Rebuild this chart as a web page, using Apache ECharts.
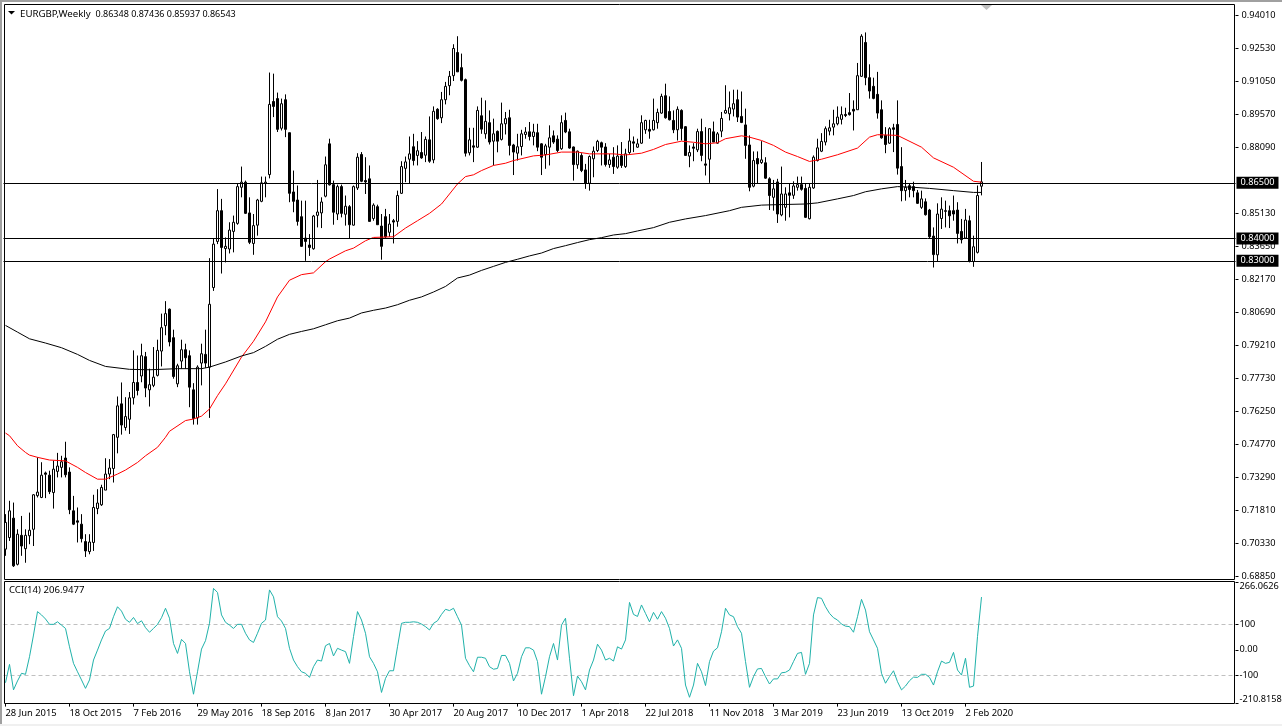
<!DOCTYPE html>
<html>
<head>
<meta charset="utf-8">
<title>EURGBP Weekly</title>
<script src="https://cdn.jsdelivr.net/npm/echarts@6/dist/echarts.min.js"></script>
<style>
  html, body { margin: 0; padding: 0; background: #fff; }
  #chart { width: 1282px; height: 726px; }
</style>
</head>
<body>
<div id="chart"></div>
<script>
var opens = [
  0.7006,0.7058,0.7145,0.6938,0.7068,0.7008,0.7066,0.7095,0.7246,0.7238,
  0.7348,0.7338,0.7260,0.7355,0.7373,0.7415,0.7352,0.7178,0.7133,0.7118,
  0.7040,0.6995,0.7036,0.7188,0.7205,0.7271,0.7343,0.7368,0.7508,0.7658,
  0.7552,0.7589,0.7685,0.7754,0.7783,0.7870,0.7721,0.7741,0.7786,0.7895,
  0.8009,0.8083,0.7955,0.7748,0.7850,0.7901,0.7874,0.7721,0.7595,0.7841,
  0.7880,0.7823,0.8180,0.8387,0.8525,0.8355,0.8353,0.8432,0.8468,0.8630,
  0.8653,0.8515,0.8378,0.8460,0.8567,0.8648,0.8687,0.9015,0.9028,0.8895,
  0.9023,0.8875,0.8609,0.8573,0.8498,0.8402,0.8371,0.8354,0.8504,0.8515,
  0.8590,0.8825,0.8642,0.8510,0.8633,0.8509,0.8543,0.8460,0.8627,0.8777,
  0.8660,0.8668,0.8490,0.8543,0.8456,0.8498,0.8428,0.8480,0.8477,0.8603,
  0.8715,0.8756,0.8812,0.8773,0.8786,0.8774,0.8843,0.8753,0.8980,0.8942,
  0.9023,0.9086,0.9131,0.9235,0.9167,0.9113,0.8785,0.8816,0.8810,0.8951,
  0.8870,0.8920,0.8837,0.8881,0.8845,0.8915,0.8942,0.8820,0.8783,0.8813,
  0.8867,0.8879,0.8858,0.8875,0.8825,0.8777,0.8810,0.8861,0.8846,0.8803,
  0.8930,0.8879,0.8811,0.8731,0.8773,0.8708,0.8648,0.8758,0.8795,0.8830,
  0.8811,0.8732,0.8765,0.8720,0.8771,0.8723,0.8786,0.8834,0.8810,0.8828,
  0.8888,0.8890,0.8888,0.8920,0.8963,0.9041,0.8970,0.8930,0.8888,0.8975,
  0.8902,0.8770,0.8811,0.8798,0.8880,0.8735,0.8756,0.8879,0.8828,0.8882,
  0.8963,0.8960,0.8981,0.9023,0.8948,0.8910,0.8820,0.8635,0.8759,0.8741,
  0.8740,0.8668,0.8585,0.8654,0.8506,0.8540,0.8605,0.8594,0.8630,0.8642,
  0.8625,0.8489,0.8627,0.8750,0.8792,0.8833,0.8882,0.8900,0.8915,0.8935,
  0.8957,0.8965,0.8980,0.8978,0.9128,0.9280,0.9122,0.9083,0.9047,0.8978,
  0.8863,0.8828,0.8897,0.8912,0.8723,0.8615,0.8637,0.8633,0.8605,0.8540,
  0.8565,0.8528,0.8411,0.8327,0.8490,0.8525,0.8525,0.8525,0.8528,0.8432,
  0.8402,0.8480,0.8297,0.8338,0.86348
];
var closes = [
  0.7126,0.7178,0.6931,0.7073,0.7020,0.7068,0.7091,0.7250,0.7262,0.7338,
  0.7342,0.7264,0.7365,0.7379,0.7398,0.7340,0.7183,0.7118,0.7127,0.7053,
  0.6998,0.7038,0.7193,0.7213,0.7283,0.7343,0.7370,0.7520,0.7649,0.7563,
  0.7601,0.7685,0.7754,0.7718,0.7874,0.7729,0.7744,0.7778,0.7898,0.8000,
  0.8063,0.7936,0.7781,0.7829,0.7901,0.7865,0.7733,0.7592,0.7823,0.7883,
  0.7841,0.8105,0.8375,0.8525,0.8360,0.8365,0.8438,0.8473,0.8633,0.8653,
  0.8513,0.8383,0.8458,0.8573,0.8650,0.8653,0.9002,0.8993,0.8890,0.9005,
  0.8890,0.8603,0.8567,0.8477,0.8365,0.8387,0.8360,0.8501,0.8519,0.8564,
  0.8731,0.8641,0.8518,0.8633,0.8513,0.8545,0.8462,0.8633,0.8765,0.8657,
  0.8654,0.8477,0.8550,0.8462,0.8365,0.8408,0.8465,0.8474,0.8593,0.8723,
  0.8744,0.8780,0.8750,0.8794,0.8762,0.8845,0.8747,0.8971,0.8938,0.9023,
  0.9083,0.9128,0.9253,0.9148,0.9110,0.8783,0.8843,0.8810,0.8975,0.8891,
  0.8926,0.8833,0.8870,0.8837,0.8915,0.8938,0.8818,0.8788,0.8812,0.8870,
  0.8878,0.8858,0.8878,0.8810,0.8765,0.8816,0.8852,0.8833,0.8795,0.8920,
  0.8878,0.8806,0.8732,0.8792,0.8705,0.8648,0.8768,0.8792,0.8836,0.8810,
  0.8732,0.8753,0.8723,0.8770,0.8728,0.8780,0.8838,0.8828,0.8825,0.8920,
  0.8930,0.8882,0.8930,0.8966,0.9038,0.8942,0.8933,0.8888,0.8980,0.8894,
  0.8773,0.8786,0.8805,0.8880,0.8773,0.8729,0.8893,0.8833,0.8870,0.8939,
  0.8975,0.8987,0.9005,0.8945,0.8921,0.8818,0.8630,0.8750,0.8735,0.8753,
  0.8671,0.8593,0.8623,0.8510,0.8600,0.8600,0.8594,0.8636,0.8642,0.8621,
  0.8495,0.8630,0.8765,0.8807,0.8836,0.8893,0.8897,0.8915,0.8945,0.8956,
  0.8952,0.8956,0.8972,0.9131,0.9308,0.9122,0.9062,0.9029,0.8963,0.8852,
  0.8822,0.8893,0.8890,0.8716,0.8615,0.8630,0.8620,0.8615,0.8558,0.8578,
  0.8507,0.8408,0.8328,0.8510,0.8532,0.8522,0.8502,0.8510,0.8423,0.8395,
  0.8483,0.8297,0.8363,0.8593,0.86543
];
var highs = [
  0.7163,0.7223,0.7215,0.7095,0.7155,0.7095,0.7170,0.7253,0.7418,0.7396,
  0.7354,0.7358,0.7403,0.7438,0.7425,0.7488,0.7373,0.7245,0.7193,0.7163,
  0.7073,0.7073,0.7250,0.7275,0.7295,0.7414,0.7410,0.7523,0.7691,0.7754,
  0.7688,0.7711,0.7898,0.7875,0.7928,0.7891,0.7816,0.7913,0.7946,0.8063,
  0.8119,0.8086,0.7991,0.7838,0.7946,0.7928,0.7898,0.7751,0.7831,0.7928,
  0.7991,0.8312,0.8402,0.8622,0.8578,0.8405,0.8473,0.8503,0.8648,0.8723,
  0.8660,0.8585,0.8510,0.8578,0.8678,0.8678,0.9145,0.9140,0.9055,0.9028,
  0.9047,0.8875,0.8705,0.8638,0.8570,0.8570,0.8420,0.8506,0.8663,0.8585,
  0.8768,0.8848,0.8660,0.8642,0.8642,0.8593,0.8550,0.8638,0.8783,0.8788,
  0.8765,0.8728,0.8558,0.8552,0.8510,0.8533,0.8510,0.8488,0.8615,0.8747,
  0.8768,0.8858,0.8870,0.8837,0.8878,0.8858,0.8948,0.8993,0.8985,0.9058,
  0.9103,0.9152,0.9272,0.9308,0.9230,0.9118,0.8897,0.8897,0.8993,0.9032,
  0.9020,0.8975,0.8938,0.8885,0.9010,0.8968,0.8978,0.8825,0.8870,0.8888,
  0.8900,0.8923,0.8915,0.8915,0.8828,0.8825,0.8908,0.8885,0.8863,0.8953,
  0.8965,0.8893,0.8813,0.8795,0.8783,0.8735,0.8773,0.8813,0.8843,0.8835,
  0.8828,0.8780,0.8810,0.8818,0.8833,0.8803,0.8893,0.8858,0.8848,0.8953,
  0.8933,0.8933,0.9028,0.8983,0.9050,0.9095,0.9038,0.8975,0.8993,0.8980,
  0.8905,0.8818,0.8828,0.8893,0.8938,0.8900,0.8895,0.8925,0.8878,0.8968,
  0.9088,0.9060,0.9068,0.9068,0.9060,0.8983,0.8863,0.8791,0.8791,0.8837,
  0.8765,0.8675,0.8663,0.8668,0.8723,0.8630,0.8648,0.8657,0.8678,0.8678,
  0.8648,0.8648,0.8773,0.8848,0.8873,0.8903,0.8933,0.8978,0.8993,0.8993,
  0.8987,0.9053,0.9020,0.9188,0.9317,0.9325,0.9182,0.9122,0.9148,0.9020,
  0.8900,0.8900,0.8915,0.9020,0.8810,0.8663,0.8648,0.8655,0.8618,0.8615,
  0.8580,0.8533,0.8450,0.8558,0.8585,0.8570,0.8548,0.8593,0.8563,0.8488,
  0.8533,0.8503,0.8413,0.8638,0.87436
];
var lows = [
  0.6976,0.7043,0.6926,0.6933,0.6976,0.6945,0.7028,0.7020,0.7238,0.7235,
  0.7235,0.7253,0.7188,0.7328,0.7328,0.7328,0.7163,0.7114,0.7036,0.7036,
  0.6971,0.6983,0.6998,0.7163,0.7200,0.7271,0.7320,0.7305,0.7436,0.7520,
  0.7538,0.7523,0.7655,0.7696,0.7755,0.7688,0.7646,0.7733,0.7781,0.7826,
  0.7966,0.7916,0.7771,0.7733,0.7816,0.7816,0.7643,0.7565,0.7565,0.7741,
  0.7820,0.7595,0.8165,0.8375,0.8243,0.8293,0.8333,0.8338,0.8462,0.8585,
  0.8510,0.8375,0.8327,0.8413,0.8563,0.8585,0.8670,0.8945,0.8878,0.8885,
  0.8855,0.8563,0.8518,0.8458,0.8363,0.8300,0.8322,0.8350,0.8450,0.8447,
  0.8585,0.8638,0.8462,0.8483,0.8495,0.8458,0.8398,0.8458,0.8618,0.8653,
  0.8600,0.8477,0.8480,0.8462,0.8305,0.8402,0.8408,0.8378,0.8453,0.8600,
  0.8653,0.8645,0.8728,0.8728,0.8758,0.8743,0.8740,0.8738,0.8933,0.8918,
  0.9002,0.9043,0.9107,0.9148,0.9105,0.8768,0.8773,0.8743,0.8807,0.8870,
  0.8848,0.8822,0.8728,0.8787,0.8840,0.8867,0.8773,0.8685,0.8750,0.8773,
  0.8848,0.8840,0.8818,0.8792,0.8685,0.8713,0.8728,0.8825,0.8788,0.8798,
  0.8873,0.8803,0.8660,0.8713,0.8698,0.8623,0.8615,0.8675,0.8788,0.8728,
  0.8723,0.8717,0.8690,0.8713,0.8717,0.8717,0.8780,0.8788,0.8807,0.8825,
  0.8870,0.8848,0.8885,0.8893,0.8960,0.8938,0.8930,0.8873,0.8840,0.8840,
  0.8773,0.8720,0.8747,0.8788,0.8747,0.8683,0.8650,0.8833,0.8825,0.8855,
  0.8960,0.8930,0.8948,0.8923,0.8918,0.8758,0.8612,0.8630,0.8645,0.8735,
  0.8668,0.8528,0.8525,0.8470,0.8500,0.8480,0.8495,0.8578,0.8615,0.8615,
  0.8492,0.8486,0.8623,0.8746,0.8788,0.8818,0.8863,0.8863,0.8908,0.8912,
  0.8945,0.8952,0.8885,0.8978,0.9125,0.9088,0.9028,0.9025,0.8938,0.8848,
  0.8783,0.8825,0.8788,0.8687,0.8567,0.8570,0.8585,0.8585,0.8555,0.8533,
  0.8503,0.8402,0.8270,0.8297,0.8443,0.8450,0.8447,0.8480,0.8378,0.8378,
  0.8398,0.8293,0.8273,0.8333,0.85937
];

// moving averages at the bars listed
var ma50Bars = [0,1,3,5,6,8,11,15,18,20,23,25,28,30,33,35,38,40,41,45,47,49,51,53,55,59,62,65,68,71,74,77,80,81,85,87,90,92,97,100,103,106,109,113,115,117,119,122,125,127,132,135,139,143,146,152,155,159,162,165,169,172,175,178,180,184,186,189,192,195,198,201,204,208,213,216,218,223,229,232,237,242,244];
var ma50Values = [0.7527,0.7515,0.7470,0.7440,0.7428,0.7418,0.7406,0.7402,0.7373,0.7350,0.7320,0.7320,0.7343,0.7361,0.7395,0.7425,0.7463,0.7508,0.7535,0.7583,0.7590,0.7603,0.7635,0.7695,0.7748,0.7868,0.7939,0.8026,0.8138,0.8213,0.8238,0.8246,0.8296,0.8308,0.8345,0.8357,0.8390,0.8405,0.8408,0.8447,0.8480,0.8513,0.8555,0.8645,0.8678,0.8686,0.8705,0.8728,0.8738,0.8750,0.8771,0.8775,0.8788,0.8788,0.8780,0.8780,0.8775,0.8783,0.8800,0.8822,0.8837,0.8832,0.8825,0.8830,0.8848,0.8861,0.8855,0.8840,0.8818,0.8788,0.8768,0.8746,0.8756,0.8776,0.8806,0.8855,0.8866,0.8863,0.8810,0.8762,0.8720,0.8657,0.8653];
var ma200Bars = [0,3,6,10,14,18,21,25,31,36,43,49,51,55,59,62,65,68,71,74,77,80,83,86,89,92,95,98,101,104,107,110,113,116,119,122,125,128,131,134,137,140,143,146,149,152,155,158,162,166,170,175,181,184,189,193,200,203,208,212,215,219,223,227,231,237,242,244];
var ma200Values = [0.8010,0.7980,0.7950,0.7931,0.7910,0.7880,0.7853,0.7826,0.7813,0.7811,0.7816,0.7816,0.7823,0.7846,0.7873,0.7888,0.7916,0.7948,0.7970,0.7983,0.7995,0.8013,0.8031,0.8043,0.8066,0.8078,0.8088,0.8103,0.8123,0.8138,0.8160,0.8185,0.8223,0.8236,0.8257,0.8275,0.8293,0.8307,0.8322,0.8335,0.8355,0.8368,0.8382,0.8395,0.8404,0.8416,0.8422,0.8434,0.8449,0.8473,0.8488,0.8503,0.8525,0.8540,0.8550,0.8552,0.8555,0.8560,0.8578,0.8593,0.8610,0.8623,0.8633,0.8630,0.8625,0.8615,0.8607,0.8607];

var cciValues = [
  -129,-57,-157,-122,-92,-96,-27,58,150,137,
  121,100,100,110,97,84,12,-53,-86,-118,
  -151,-118,-40,-1,39,74,84,130,169,152,
  120,108,127,103,114,87,69,84,100,126,
  163,124,25,-14,41,25,-86,-174,-86,3,
  36,104,241,225,137,108,97,84,100,100,
  65,39,29,65,104,117,235,208,130,113,
  84,6,-40,-66,-86,-92,-108,-66,-40,-44,
  16,25,-24,6,-1,-7,-53,52,150,117,
  65,-27,-53,-86,-167,-112,-82,-82,12,104,
  108,108,110,108,101,91,78,104,114,139,
  159,154,163,130,97,-33,-62,-86,-29,-29,
  -33,-66,-76,-73,-22,-22,-53,-122,-92,-27,
  8,8,-1,-46,-174,-105,-27,25,-40,97,
  124,-33,-180,-103,-125,-157,-79,-40,22,-1,
  -40,-33,-44,12,3,39,186,139,131,176,
  143,110,147,120,150,124,84,15,39,6,
  -138,-186,-138,-53,-86,-140,-46,-5,8,71,
  163,137,130,91,65,-46,-147,-105,-75,-73,
  -105,-134,-114,-114,-90,-88,-79,-46,-14,-10,
  -96,-53,137,205,202,169,143,126,117,101,
  93,91,69,130,198,156,71,39,6,-92,
  -131,-105,-82,-125,-157,-142,-121,-107,-108,-96,
  -96,-108,-138,-86,-44,-53,-49,-10,-79,-99,
  -33,-147,-142,52,206.9477
];

var dateLabels = ["28 Jun 2015","18 Oct 2015","7 Feb 2016","29 May 2016","18 Sep 2016","8 Jan 2017","30 Apr 2017","20 Aug 2017","10 Dec 2017","1 Apr 2018","22 Jul 2018","11 Nov 2018","3 Mar 2019","23 Jun 2019","13 Oct 2019","2 Feb 2020"];
var priceTicks = [0.6885,0.7033,0.7181,0.7329,0.7477,0.7625,0.7773,0.7921,0.8069,0.8217,0.8365,0.8513,0.8809,0.8957,0.9105,0.9253,0.9401];
var priceLevels = [0.865,0.84,0.83];
var cciTicks = [-210.8158,-100,0,100,266.0626];
var cciLevels = [100,-100];

var font = "'Noto Sans', sans-serif";

// the x axis runs on past the last bar, the chart has empty space at the right
var slots = 308;
var categories = [];
for (var i = 0; i < slots; i++) {
  categories.push(i % 16 === 0 && dateLabels[i / 16] ? dateLabels[i / 16] : "");
}

var candles = opens.map(function (o, i) {
  return [o, closes[i], lows[i], highs[i]];
});

function pairs(bars, values) {
  return bars.map(function (b, i) {
    return [b, values[i]];
  });
}

function isDateSlot(index) {
  return categories[index] !== "";
}

var chart = echarts.init(document.getElementById("chart"), null, { renderer: "canvas" });

chart.setOption({
  animation: false,
  backgroundColor: "#fff",
  title: [
    {
      text: "{a|EURGBP,Weekly} {b|0.86348 0.87436 0.85937 0.86543}",
      left: 20,
      top: 5,
      padding: 0,
      textStyle: {
        fontFamily: font,
        fontWeight: "normal",
        color: "#000",
        rich: {
          a: { fontFamily: font, fontSize: 9.7, color: "#000" },
          b: { fontFamily: font, fontSize: 9, color: "#000" },
        },
      },
    },
    {
      text: "CCI(14) 206.9477",
      left: 9,
      top: 585,
      padding: 0,
      textStyle: { fontFamily: font, fontSize: 9.6, fontWeight: "normal", color: "#000" },
    },
  ],
  grid: [
    { left: 3.5, top: 4, width: 1232, height: 575, outerBoundsMode: "none" },
    { left: 3.5, top: 582, width: 1232, height: 121.6, outerBoundsMode: "none" },
  ],
  xAxis: [
    {
      type: "category",
      gridIndex: 0,
      data: categories,
      axisLine: { show: false, onZero: false },
      axisTick: { show: false },
      axisLabel: { show: false },
      splitLine: { show: false },
    },
    {
      type: "category",
      gridIndex: 1,
      data: categories,
      axisLine: { show: false, onZero: false },
      axisTick: { show: true, interval: isDateSlot, alignWithLabel: true, length: 3, lineStyle: { color: "#000" } },
      axisLabel: {
        interval: isDateSlot,
        align: "left",
        margin: 5,
        color: "#000",
        fontFamily: font,
        fontSize: 9.4,
        showMinLabel: true,
        hideOverlap: false,
      },
      splitLine: { show: false },
    },
  ],
  yAxis: [
    {
      type: "value",
      gridIndex: 0,
      position: "right",
      min: 0.6872,
      max: 0.94526,
      axisLine: { show: false },
      axisTick: { show: true, length: 3, customValues: priceTicks, lineStyle: { color: "#000" } },
      axisLabel: {
        customValues: priceTicks,
        margin: 6,
        color: "#000",
        fontFamily: font,
        fontSize: 9.2,
        formatter: function (v) {
          return v.toFixed(5);
        },
      },
      splitLine: { show: false },
    },
    {
      type: "value",
      gridIndex: 1,
      position: "right",
      min: -210.8158,
      max: 266.0626,
      axisLine: { show: false },
      axisTick: { show: true, length: 3, customValues: cciTicks, lineStyle: { color: "#000" } },
      axisLabel: {
        customValues: cciTicks,
        margin: 4,
        color: "#000",
        fontFamily: font,
        fontSize: 9.2,
        verticalAlignMinLabel: "bottom",
        verticalAlignMaxLabel: "top",
        formatter: function (v) {
          if (v === 0) return "0.00";
          if (v === 100 || v === -100) return String(v);
          return v.toFixed(4);
        },
      },
      splitLine: { show: false },
    },
  ],
  series: [
    {
      name: "EURGBP",
      type: "candlestick",
      xAxisIndex: 0,
      yAxisIndex: 0,
      data: candles,
      barWidth: 2,
      itemStyle: {
        color: "#fff",
        color0: "#000",
        borderColor: "#000",
        borderColor0: "#000",
        borderWidth: 1,
      },
      markLine: {
        silent: true,
        symbol: "none",
        animation: false,
        precision: 5,
        z: 10,
        lineStyle: { color: "#000", width: 1, type: "solid" },
        label: {
          show: true,
          position: "end",
          distance: 1,
          color: "#fff",
          backgroundColor: "#000",
          padding: [2, 4, 1, 4],
          fontFamily: font,
          fontSize: 9.2,
          formatter: function (p) {
            return Number(p.value).toFixed(5);
          },
        },
        data: priceLevels.map(function (v) {
          return { yAxis: v };
        }),
      },
    },
    {
      name: "MA50",
      type: "line",
      xAxisIndex: 0,
      yAxisIndex: 0,
      data: pairs(ma50Bars, ma50Values),
      showSymbol: false,
      z: 5,
      lineStyle: { color: "#ff0000", width: 1 },
    },
    {
      name: "MA200",
      type: "line",
      xAxisIndex: 0,
      yAxisIndex: 0,
      data: pairs(ma200Bars, ma200Values),
      showSymbol: false,
      z: 5,
      lineStyle: { color: "#000", width: 1 },
    },
    {
      name: "CCI(14)",
      type: "line",
      xAxisIndex: 1,
      yAxisIndex: 1,
      data: cciValues,
      showSymbol: false,
      z: 5,
      lineStyle: { color: "#20b2aa", width: 1 },
      markLine: {
        silent: true,
        symbol: "none",
        animation: false,
        label: { show: false },
        lineStyle: { color: "#c0c0c0", width: 1, type: [4, 3] },
        data: cciLevels.map(function (v) {
          return { yAxis: v };
        }),
      },
    },
  ],
  graphic: [
    // window edges and the panel frames
    { type: "rect", z: 20, silent: true, shape: { x: 0, y: 0, width: 1282, height: 2 }, style: { fill: "#a0a0a0" } },
    { type: "rect", z: 20, silent: true, shape: { x: 0, y: 0, width: 2, height: 726 }, style: { fill: "#a0a0a0" } },
    { type: "rect", z: 20, silent: true, shape: { x: 0, y: 724, width: 1282, height: 2 }, style: { fill: "#f0f0f0" } },
    { type: "rect", z: 20, silent: true, shape: { x: 4.5, y: 4.5, width: 1230, height: 575 }, style: { fill: "none", stroke: "#000", lineWidth: 1 } },
    { type: "rect", z: 20, silent: true, shape: { x: 4.5, y: 581.5, width: 1230, height: 122 }, style: { fill: "none", stroke: "#000", lineWidth: 1 } },
    // menu arrow next to the title and the chart shift marker
    { type: "polygon", z: 20, silent: true, shape: { points: [[8, 11], [15, 11], [11.5, 14.5]] }, style: { fill: "#000" } },
    { type: "polygon", z: 20, silent: true, shape: { points: [[981, 5], [992, 5], [986.5, 10]] }, style: { fill: "#c0c0c0" } },
  ],
});
</script>
</body>
</html>
